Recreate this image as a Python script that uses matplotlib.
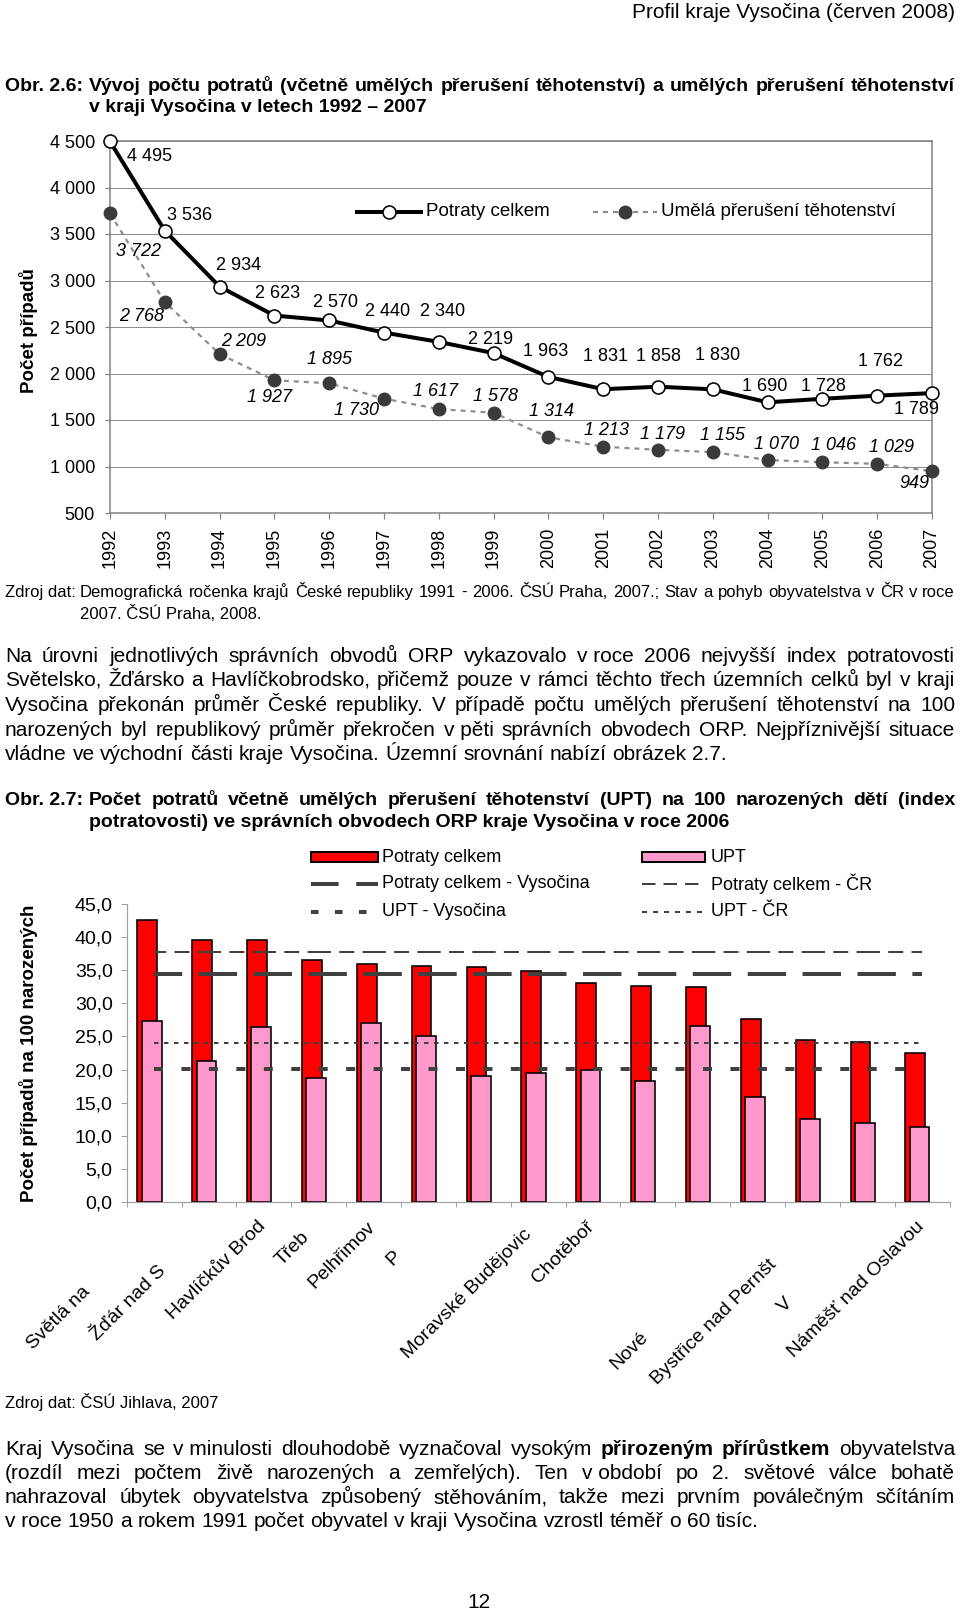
import matplotlib
matplotlib.use('Agg')
import matplotlib.pyplot as plt
import numpy as np
from matplotlib.ticker import FuncFormatter
from matplotlib.patches import Rectangle

W, H = 960, 1611
PX = 72 / 100.0  # points per pixel
plt.rcParams['font.family'] = ['Liberation Sans', 'DejaVu Sans']
plt.rcParams['lines.scale_dashes'] = False

# ---------------- data ----------------
years = [1992, 1993, 1994, 1995, 1996, 1997, 1998, 1999, 2000, 2001, 2002, 2003, 2004, 2005, 2006, 2007]
potraty = [4495, 3536, 2934, 2623, 2570, 2440, 2340, 2219, 1963, 1831, 1858, 1830, 1690, 1728, 1762, 1789]
upt = [3722, 2768, 2209, 1927, 1895, 1730, 1617, 1578, 1314, 1213, 1179, 1155, 1070, 1046, 1029, 949]

orp_full = ["Světlá nad Sázavou", "Žďár nad Sázavou", "Havlíčkův Brod", "Třebíč", "Pelhřimov",
            "Pacov", "Humpolec", "Moravské Budějovice", "Chotěboř", "Jihlava", "Telč",
            "Nové Město na Moravě", "Bystřice nad Pernštejnem", "Velké Meziříčí", "Náměšť nad Oslavou"]
orp_shown = ["Světlá na", "Žďár nad S", "Havlíčkův Brod", "Třeb", "Pelhřimov", "P", "",
             "Moravské Budějovic", "Chotěboř", "", "", "Nové", "Bystřice nad Pernšt", "V",
             "Náměšť nad Oslavou"]
potraty_orp = [42.6, 39.6, 39.5, 36.5, 35.9, 35.7, 35.5, 34.9, 33.0, 32.6, 32.4, 27.6, 24.5, 24.2, 22.5]
upt_orp = [27.4, 21.3, 26.5, 18.7, 27.0, 25.1, 19.1, 19.5, 19.9, 18.3, 26.6, 15.9, 12.6, 11.9, 11.3]
potraty_vysocina = 34.4
potraty_cr = 37.7
upt_vysocina = 20.1
upt_cr = 24.0

# label offsets (pixels, dx right, dy down) -- layout only
pot_off = [(40, 15), (25, -15), (19, -21), (3, -22), (6, -18), (4, -21), (4, -30), (-3, -14),
           (-3, -25), (2, -33), (0, -30), (5, -34), (-3, -16), (1, -12), (3, -34), (-15, 16)]
upt_off = [(28, 38), (-23, 14), (24, -13), (-5, 17), (0, -24), (-27, 12), (-3, -18), (2, -16),
           (3, -26), (3, -16), (5, -15), (10, -17), (9, -15), (11, -17), (14, -16), (-18, 12)]

fig = plt.figure(figsize=(W / 100, H / 100), dpi=100)

def thousands(v):
    return f"{int(v):,}".replace(',', ' ')

# ---------------- chart 1 ----------------
ax1 = fig.add_axes([110 / W, 1 - 513 / H, (932 - 110) / W, (513 - 141) / H])
xi = np.arange(len(years))
ax1.plot(xi, potraty, color='black', lw=4 * PX, marker='o', ms=13 * PX, mfc='white',
         mec='black', mew=1.6 * PX, clip_on=False, zorder=4)
ax1.plot(xi, upt, color='#8c8c8c', lw=2.2 * PX, linestyle=(0, (5 * PX, 5 * PX)), marker='o',
         ms=12.5 * PX, mfc='#3a3a3a', mec='#3a3a3a', clip_on=False, zorder=3)
ax1.set_xlim(0, len(years) - 1)
ax1.set_ylim(500, 4500)
ax1.set_yticks(np.arange(500, 4501, 500))
ax1.yaxis.set_major_formatter(FuncFormatter(lambda v, p: thousands(v)))
ax1.yaxis.grid(True, color='#8c8c8c', lw=1 * PX)
ax1.set_axisbelow(True)
ax1.set_xticks(xi)
ax1.set_xticklabels([str(y) for y in years], rotation=90, fontsize=13)
ax1.tick_params(axis='x', length=6 * PX, width=1.2 * PX, color='#808080', pad=9 * PX)
ax1.tick_params(axis='y', length=5 * PX, width=1.2 * PX, color='#808080', pad=10 * PX, labelsize=13)
for s in ax1.spines.values():
    s.set_color('#808080')
    s.set_linewidth(1.5 * PX)
for i, v in enumerate(potraty):
    dx, dy = pot_off[i]
    ax1.annotate(thousands(v), (i, v), xytext=(dx, -dy), textcoords='offset pixels',
                 ha='center', va='center', fontsize=13, annotation_clip=False, zorder=6)
for i, v in enumerate(upt):
    dx, dy = upt_off[i]
    ax1.annotate(thousands(v), (i, v), xytext=(dx, -dy), textcoords='offset pixels',
                 ha='center', va='center', fontsize=13, style='italic', annotation_clip=False, zorder=6)

# ---------------- chart 2 ----------------
ax2 = fig.add_axes([126.7 / W, 1 - 1202 / H, 822.8 / W, 298 / H])
n = len(orp_full)
xc = np.arange(n) + 0.5
ax2.bar(xc - 0.124, potraty_orp, width=0.36, color='#ff0000', edgecolor='black', lw=1.6 * PX, zorder=2)
ax2.bar(xc - 0.045, upt_orp, width=0.36, color='#ff99cc', edgecolor='black', lw=1.6 * PX, zorder=3)
ax2.plot(xc, np.full(n, potraty_cr), color='#404040', lw=2 * PX,
         linestyle=(11.1 * PX, (23.3 * PX, 8.3 * PX, 15 * PX, 8.3 * PX)), zorder=4)
ax2.plot(xc, np.full(n, potraty_vysocina), color='#404040', lw=4 * PX,
         linestyle=(10.2 * PX, (38.4 * PX, 16.5 * PX)), zorder=4)
ax2.plot(xc, np.full(n, upt_cr), color='#404040', lw=2 * PX,
         linestyle=(0, (4.5 * PX, 5.5 * PX)), zorder=4)
ax2.plot(xc, np.full(n, upt_vysocina), color='#404040', lw=4 * PX,
         linestyle=(0, (9 * PX, 18.45 * PX)), zorder=4)
ax2.set_xlim(0, n)
ax2.set_ylim(0, 45)
ax2.set_yticks(np.arange(0, 45.1, 5))
ax2.yaxis.set_major_formatter(FuncFormatter(lambda v, p: f"{v:.1f}".replace('.', ',')))
ax2.set_xticks(np.arange(0, n + 1))
ax2.set_xticklabels([])
ax2.tick_params(axis='y', length=6 * PX, width=1 * PX, color='#a0a0a0', pad=8 * PX, labelsize=14)
ax2.tick_params(axis='x', length=5 * PX, width=1 * PX, color='#a0a0a0')
for k in ['top', 'right']:
    ax2.spines[k].set_visible(False)
for k in ['left', 'bottom']:
    ax2.spines[k].set_color('#a0a0a0')
    ax2.spines[k].set_linewidth(1.2 * PX)

# ---------------- page overlay (pixel coords, y down) ----------------
page = fig.add_axes([0, 0, 1, 1], zorder=10)
page.set_xlim(0, W)
page.set_ylim(H, 0)
page.axis('off')
page.patch.set_visible(False)

renderer = fig.canvas.get_renderer()

def measure(s, size, weight='normal', style='normal'):
    t = page.text(0, 0, s, fontsize=size, fontweight=weight, fontstyle=style)
    w = t.get_window_extent(renderer).width
    t.remove()
    return w

def toks(s, weight='normal'):
    return [(w, weight) for w in s.split(' ') if w]

def line(tokens, x0, x1, y, size, justify=True):
    widths = [measure(w, size, wt) for w, wt in tokens]
    if justify and len(tokens) > 1:
        gap = (x1 - x0 - sum(widths)) / (len(tokens) - 1)
    else:
        gap = measure('a a', size) - measure('aa', size)
    x = x0
    for (w, wt), wd in zip(tokens, widths):
        page.text(x, y, w, fontsize=size, fontweight=wt, ha='left', va='baseline')
        x += wd + gap

R = 955
# header
page.text(R, 18, "Profil kraje Vysočina (červen 2008)", fontsize=15, ha='right', va='baseline')

# title 2.6
page.text(5, 91, "Obr. 2.6:", fontsize=14, fontweight='bold', ha='left', va='baseline')
line(toks("Vývoj počtu potratů (včetně umělých přerušení těhotenství) a umělých přerušení těhotenství", 'bold'),
     89, R, 91, 14)
page.text(89, 112, "v kraji Vysočina v letech 1992 – 2007", fontsize=14, fontweight='bold',
          ha='left', va='baseline')

# chart 1 y label and legend
page.text(28, 331, "Počet případů", rotation=90, fontsize=13.5, fontweight='bold', ha='center', va='center')
page.plot([357, 421], [212, 212], color='black', lw=4 * PX)
page.plot([389], [212], marker='o', ms=13 * PX, mfc='white', mec='black', mew=1.6 * PX)
page.text(426, 212, "Potraty celkem", fontsize=13.5, ha='left', va='center')
page.plot([593, 657], [212, 212], color='#8c8c8c', lw=2.2 * PX, linestyle=(0, (5 * PX, 5 * PX)))
page.plot([625], [212], marker='o', ms=12.5 * PX, mfc='#3a3a3a', mec='#3a3a3a')
page.text(661, 212, "Umělá přerušení těhotenství", fontsize=13.5, ha='left', va='center')

# source 1
page.text(5, 597, "Zdroj dat:", fontsize=12, ha='left', va='baseline')
line(toks("Demografická ročenka krajů České republiky 1991 - 2006. ČSÚ Praha, 2007.; Stav a pohyb obyvatelstva v ČR v roce"),
     80, R, 597, 12)
page.text(80, 619, "2007. ČSÚ Praha, 2008.", fontsize=12, ha='left', va='baseline')

# paragraph 1
par1 = ["Na úrovni jednotlivých správních obvodů ORP vykazovalo v\u00a0roce 2006 nejvyšší index potratovosti",
        "Světelsko, Žďársko a Havlíčkobrodsko, přičemž pouze v rámci těchto třech územních celků byl v kraji",
        "Vysočina překonán průměr České republiky. V případě počtu umělých přerušení těhotenství na 100",
        "narozených byl republikový průměr překročen v\u00a0pěti správních obvodech ORP. Nejpříznivější situace",
        "vládne ve východní části kraje Vysočina. Územní srovnání nabízí obrázek 2.7."]
base1 = [661.5, 686, 711, 735.5, 760]
for k, (txt, yb) in enumerate(zip(par1, base1)):
    line(toks(txt), 5, R, yb, 15, justify=(k < len(par1) - 1))

# title 2.7
page.text(5, 805, "Obr. 2.7:", fontsize=14, fontweight='bold', ha='left', va='baseline')
line(toks("Počet potratů včetně umělých přerušení těhotenství (UPT) na 100 narozených dětí (index", 'bold'),
     89, R, 805, 14)
page.text(89, 827, "potratovosti) ve správních obvodech ORP kraje Vysočina v roce 2006", fontsize=14,
          fontweight='bold', ha='left', va='baseline')

# chart 2 legend
page.add_patch(Rectangle((311, 852), 67, 10, facecolor='#ff0000', edgecolor='black', lw=2 * PX))
page.add_patch(Rectangle((642, 852), 63, 10, facecolor='#ff99cc', edgecolor='black', lw=2 * PX))
page.plot([311, 378], [884, 884], color='#404040', lw=4 * PX, linestyle=(0, (27.6 * PX, 17.7 * PX)))
page.plot([642, 705], [884, 884], color='#404040', lw=2 * PX, linestyle=(0, (13.5 * PX, 8 * PX)))
page.plot([311, 367], [912, 912], color='#404040', lw=4 * PX, linestyle=(0, (7.5 * PX, 16.5 * PX)))
page.plot([642, 705], [912, 912], color='#404040', lw=2 * PX, linestyle=(0, (5 * PX, 6 * PX)))
for (tx, ty, s) in [(382, 857, "Potraty celkem"), (711, 857, "UPT"),
                    (382, 884, "Potraty celkem - Vysočina"), (711, 884, "Potraty celkem - ČR"),
                    (382, 912, "UPT - Vysočina"), (711, 912, "UPT - ČR")]:
    page.text(tx, ty, s, fontsize=13, ha='left', va='center')

# chart 2 y label
page.text(29, 1053, "Počet případů na 100 narozených", rotation=90, fontsize=13.5, fontweight='bold',
          ha='center', va='center')

# chart 2 category labels (rotated, clipped as in the original)
s2 = np.sqrt(2)
for i in range(n):
    if not orp_shown[i]:
        continue
    dx, dy = ax2.transData.transform((i + 0.5, 0))
    axp, ayp = dx - 7, (H - dy) + 16
    wf = measure(orp_full[i], 14)
    page.text(axp - wf / s2, ayp + wf / s2, orp_shown[i], fontsize=14, rotation=45,
              rotation_mode='anchor', ha='left', va='top')

# source 2
page.text(5, 1408, "Zdroj dat: ČSÚ Jihlava, 2007", fontsize=12, ha='left', va='baseline')

# paragraph 2
par2 = [toks("Kraj Vysočina se v\u00a0minulosti dlouhodobě vyznačoval vysokým") +
        toks("přirozeným přírůstkem", 'bold') + toks("obyvatelstva"),
        toks("(rozdíl mezi počtem živě narozených a zemřelých). Ten v\u00a0období po 2. světové válce bohatě"),
        toks("nahrazoval úbytek obyvatelstva způsobený stěhováním, takže mezi prvním poválečným sčítáním"),
        toks("v\u00a0roce 1950 a rokem 1991 počet obyvatel v kraji Vysočina vzrostl téměř o 60 tisíc.")]
base2 = [1455, 1479, 1503, 1527]
for k, (tk, yb) in enumerate(zip(par2, base2)):
    line(tk, 5, R, yb, 15, justify=(k < len(par2) - 1))

# page number
page.text(479, 1608, "12", fontsize=15, ha='center', va='baseline')

fig.savefig('out.png', dpi=100)
